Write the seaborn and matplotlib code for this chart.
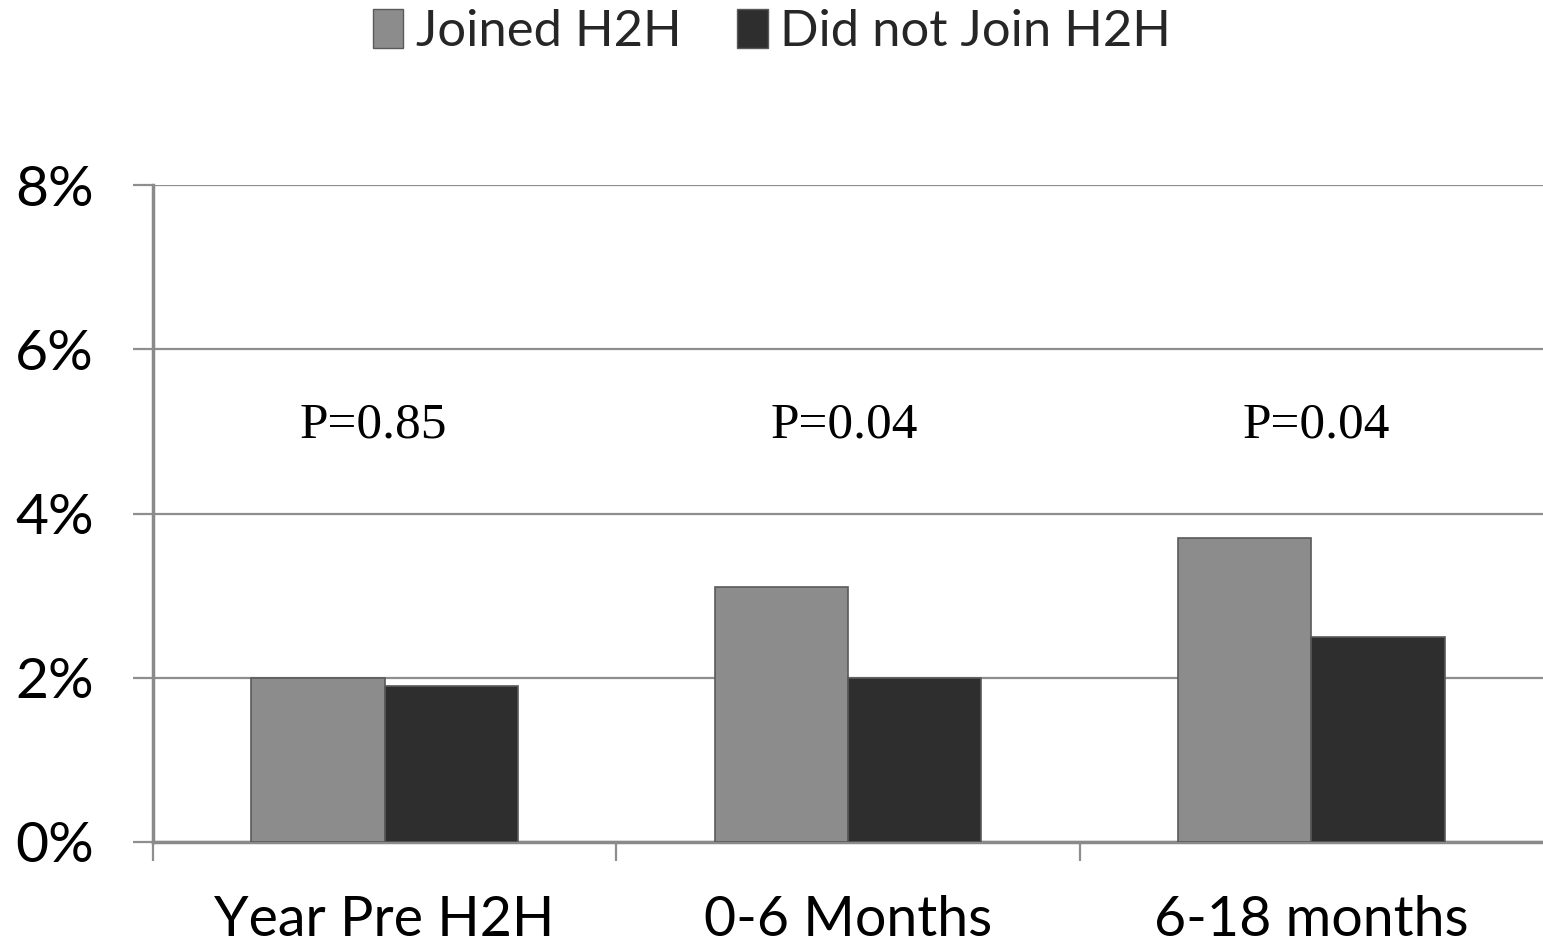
import matplotlib
matplotlib.use("Agg")
import matplotlib.pyplot as plt
import seaborn as sns
import pandas as pd
from matplotlib.ticker import FixedLocator, FuncFormatter
from matplotlib.patches import Patch

categories = ["Year Pre H2H", "0-6 Months", "6-18 months"]
series_names = ["Joined H2H", "Did not Join H2H"]
joined = [2.0, 3.1, 3.7]
not_joined = [1.9, 2.0, 2.5]
p_labels = ["P=0.85", "P=0.04", "P=0.04"]
y_ticks = [0, 2, 4, 6, 8]

df = pd.DataFrame({
    "period": categories * 2,
    "group": [series_names[0]] * 3 + [series_names[1]] * 3,
    "value": joined + not_joined,
})

sns.set_theme(style="white")
plt.rcParams["font.family"] = ["Lato", "DejaVu Sans"]

fig = plt.figure(figsize=(15.43, 9.49), dpi=100)
ax = fig.add_axes([153 / 1543, 1 - 842 / 949, 1 - 153 / 1543, (842 - 185) / 949])

palette = {series_names[0]: "#8c8c8c", series_names[1]: "#2e2e2e"}
sns.barplot(data=df, x="period", y="value", hue="group", order=categories,
            hue_order=series_names, palette=palette, width=0.575, ax=ax,
            edgecolor="#5a5a5a", linewidth=1.2, saturation=1, legend=False, zorder=3)

ax.set_xlim(-0.5, 2.5)
ax.set_ylim(0, 8)
ax.set_xlabel("")
ax.set_ylabel("")

ax.yaxis.set_major_locator(FixedLocator(y_ticks))
ax.yaxis.set_major_formatter(FuncFormatter(lambda v, p: f"{int(v)}%"))
ax.grid(axis="y", color="#8e8e8e", linewidth=1.6, zorder=0)
ax.set_axisbelow(True)

for s in ["top", "right"]:
    ax.spines[s].set_visible(False)
for s in ["left", "bottom"]:
    ax.spines[s].set_color("#8a8a8a")
    ax.spines[s].set_linewidth(2.5)

ax.tick_params(axis="y", which="major", length=14.5, width=1.6, color="#8e8e8e",
               pad=28, labelsize=41, labelcolor="black", direction="out", left=True)
ax.xaxis.set_minor_locator(FixedLocator([-0.5, 0.5, 1.5]))
ax.tick_params(axis="x", which="major", length=0, pad=38, labelsize=40, labelcolor="black")
ax.tick_params(axis="x", which="minor", length=14, width=1.6, color="#8e8e8e",
               direction="out", bottom=True)

p_offsets = [-0.025, -0.008, 0.01]
for i, lab in enumerate(p_labels):
    ax.text(i + p_offsets[i], 5.08, lab, ha="center", va="center", fontsize=37,
            family=["Liberation Serif"], color="black")

handles = [Patch(facecolor=palette[n], edgecolor="#5a5a5a", label=n) for n in series_names]
fig.legend(handles=handles, loc="center", bbox_to_anchor=(772 / 1543, 1 - 32 / 949),
           ncol=2, frameon=False, fontsize=36.5, handlelength=0.6, handleheight=0.8,
           handletextpad=0.25, columnspacing=1.1, borderaxespad=0)

fig.savefig("out.png", dpi=100)
